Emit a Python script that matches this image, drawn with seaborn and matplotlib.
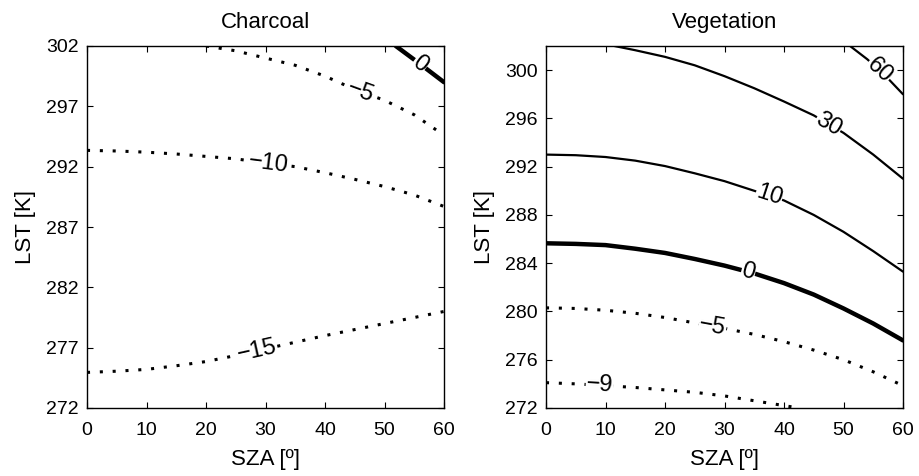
import numpy as np
import pandas as pd
import matplotlib
matplotlib.use('Agg')
import matplotlib.pyplot as plt
import seaborn as sns

# =============================================================================
# Dados (isolinhas SZA x LST)
# =============================================================================
# Charcoal
char_levels = [0, -5, -10, -15]
char_sza_0 = [51.9, 56.0, 60.0]
char_lst_0 = [302.0, 300.5, 299.0]
char_sza_m5 = [20, 25, 30, 35, 40, 45, 50, 55, 60]
char_lst_m5 = [302.0, 301.6, 301.0, 300.4, 299.5, 298.4, 297.5, 296.3, 294.6]
char_sza_m10 = [0, 5, 10, 15, 20, 25, 30, 35, 40, 45, 50, 55, 60]
char_lst_m10 = [293.35, 293.3, 293.2, 293.05, 292.85, 292.65, 292.3, 292.0,
                291.5, 290.95, 290.35, 289.65, 288.7]
char_sza_m15 = [0, 5, 10, 15, 20, 25, 30, 35, 40, 45, 50, 55, 60]
char_lst_m15 = [274.95, 275.05, 275.2, 275.5, 275.85, 276.35, 276.9, 277.45,
                278.0, 278.5, 279.0, 279.5, 280.0]
char_label_sza = [56.0, 46.0, 30.5, 28.5]

# Vegetation
veg_levels = [60, 30, 10, 0, -5, -9]
veg_sza_60 = [51.1, 54.0, 57.3, 60.0]
veg_lst_60 = [302.0, 300.9, 299.4, 298.0]
veg_sza_30 = [11.5, 15, 20, 25, 30, 35, 40, 45, 50, 55, 60]
veg_lst_30 = [302.0, 301.65, 301.1, 300.4, 299.5, 298.5, 297.4, 296.25,
              294.8, 293.0, 291.0]
veg_sza_10 = [0, 5, 10, 15, 20, 25, 30, 35, 40, 45, 50, 55, 60]
veg_lst_10 = [293.0, 292.95, 292.8, 292.5, 292.05, 291.45, 290.8, 290.0,
              289.2, 288.0, 286.6, 285.0, 283.3]
veg_sza_0 = [0, 5, 10, 15, 20, 25, 30, 35, 40, 45, 50, 55, 60]
veg_lst_0 = [285.65, 285.6, 285.5, 285.2, 284.85, 284.35, 283.8, 283.15,
             282.35, 281.4, 280.25, 279.0, 277.6]
veg_sza_m5 = [0, 5, 10, 15, 20, 25, 30, 35, 40, 45, 50, 55, 60]
veg_lst_m5 = [280.3, 280.25, 280.1, 279.85, 279.5, 279.05, 278.6, 278.1,
              277.5, 276.8, 276.0, 275.0, 273.85]
veg_sza_m9 = [0, 5, 10, 15, 20, 25, 30, 35, 40, 42.5]
veg_lst_m9 = [274.1, 274.0, 273.85, 273.7, 273.5, 273.3, 273.0, 272.6,
              272.2, 272.0]
veg_label_sza = [56.0, 47.5, 37.5, 34.0, 28.0, 9.0]

char_curves = [(char_sza_0, char_lst_0), (char_sza_m5, char_lst_m5),
               (char_sza_m10, char_lst_m10), (char_sza_m15, char_lst_m15)]
veg_curves = [(veg_sza_60, veg_lst_60), (veg_sza_30, veg_lst_30),
              (veg_sza_10, veg_lst_10), (veg_sza_0, veg_lst_0),
              (veg_sza_m5, veg_lst_m5), (veg_sza_m9, veg_lst_m9)]

char_yticks = [272, 277, 282, 287, 292, 297, 302]
veg_yticks = [272, 276, 280, 284, 288, 292, 296, 300]
xticks = [0, 10, 20, 30, 40, 50, 60]

# =============================================================================
# Estilo
# =============================================================================
sns.set_theme(style="white")
plt.rcParams['font.family'] = ['Liberation Sans', 'DejaVu Sans']
plt.rcParams['axes.edgecolor'] = 'black'
plt.rcParams['axes.linewidth'] = 1.0
plt.rcParams['text.color'] = 'black'
plt.rcParams['axes.labelcolor'] = 'black'

fig = plt.figure(figsize=(9.19, 4.76), dpi=100)
ax_c = fig.add_axes([87 / 919, (476 - 408) / 476, 357 / 919, 362 / 476])
ax_v = fig.add_axes([546 / 919, (476 - 408) / 476, 357 / 919, 362 / 476])


def draw_panel(ax, title, levels, curves, label_sza, yticks):
    ax.set_xlim(0, 60)
    ax.set_ylim(272, 302)
    for lev, (sza, lst), lsza in zip(levels, curves, label_sza):
        df = pd.DataFrame({'sza': sza, 'lst': lst})
        if lev == 0:
            kw = dict(linewidth=3.2, linestyle='-')
        elif lev > 0:
            kw = dict(linewidth=1.6, linestyle='-')
        else:
            kw = dict(linewidth=2.2, linestyle=(0, (1, 3.2)))
        sns.lineplot(data=df, x='sza', y='lst', sort=False, estimator=None,
                     color='black', ax=ax, **kw)

        # rótulo da isolinha, alinhado com a curva
        ly = np.interp(lsza, sza, lst)
        p1 = ax.transData.transform((lsza - 1.0, np.interp(lsza - 1.0, sza, lst)))
        p2 = ax.transData.transform((lsza + 1.0, np.interp(lsza + 1.0, sza, lst)))
        ang = np.degrees(np.arctan2(p2[1] - p1[1], p2[0] - p1[0]))
        txt = str(lev).replace('-', '\u2212')
        ax.text(lsza, ly, txt, rotation=ang, rotation_mode='anchor',
                ha='center', va='center', fontsize=17, zorder=5,
                bbox=dict(boxstyle='square,pad=0.02', fc='white', ec='none'))

    ax.set_xticks(xticks)
    ax.set_yticks(yticks)
    ax.tick_params(direction='in', bottom=True, left=True, top=True, right=True,
                   length=4, width=0.8, labelsize=14, colors='black')
    ax.tick_params(axis='x', pad=10)
    ax.tick_params(axis='y', pad=6)
    ax.set_xlabel('SZA [º]', fontsize=16, labelpad=7)
    ax.set_ylabel('LST [K]', fontsize=16, labelpad=7)
    ax.set_title(title, fontsize=16, pad=13)
    for s in ax.spines.values():
        s.set_visible(True)
        s.set_color('black')


draw_panel(ax_c, 'Charcoal', char_levels, char_curves, char_label_sza, char_yticks)
draw_panel(ax_v, 'Vegetation', veg_levels, veg_curves, veg_label_sza, veg_yticks)

fig.savefig('out.png', dpi=100)
